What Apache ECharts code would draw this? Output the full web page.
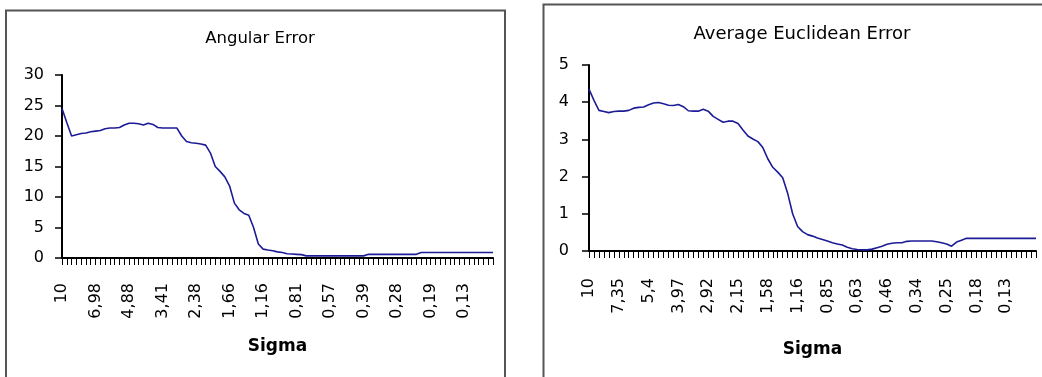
<!DOCTYPE html>
<html>
<head>
<meta charset="utf-8">
<script src="https://cdn.jsdelivr.net/npm/echarts@6/dist/echarts.min.js"></script>
<style>
html,body{margin:0;padding:0;background:#fff;}
#c{width:1042px;height:377px;}
</style>
</head>
<body>
<div id="c"></div>
<script>
// Sigma categories (x axis), shared by both charts
const sigma = [
  "10","9,5","9,03","8,57","8,15","7,74","7,35","6,98","6,63","6,3",
  "5,99","5,69","5,4","5,13","4,88","4,63","4,4","4,18","3,97","3,77",
  "3,58","3,41","3,24","3,07","2,92","2,77","2,64","2,5","2,38","2,26",
  "2,15","2,04","1,94","1,84","1,75","1,66","1,58","1,5","1,42","1,35",
  "1,29","1,22","1,16","1,1","1,05","0,99","0,94","0,9","0,85","0,81",
  "0,77","0,73","0,69","0,66","0,63","0,6","0,57","0,54","0,51","0,48",
  "0,46","0,44","0,42","0,39","0,38","0,36","0,34","0,32","0,31","0,29",
  "0,28","0,26","0,25","0,24","0,22","0,21","0,2","0,19","0,18","0,17",
  "0,17","0,16","0,15","0,14","0,13","0,13","0,12","0,12","0,11","0,1",
  "0,1"
];

// Angular Error values
const angularError = [
  24.5, 22.2, 20.0, 20.2, 20.4, 20.5, 20.7, 20.8, 20.9, 21.2,
  21.3, 21.3, 21.4, 21.8, 22.1, 22.1, 22.0, 21.8, 22.1, 21.9,
  21.4, 21.3, 21.3, 21.3, 21.3, 20.0, 19.1, 18.9, 18.8, 18.7,
  18.5, 17.2, 15.0, 14.2, 13.3, 11.8, 9.0, 7.9, 7.3, 7.0,
  5.0, 2.3, 1.45, 1.3, 1.2, 1.0, 0.9, 0.7, 0.65, 0.6,
  0.55, 0.35, 0.35, 0.35, 0.35, 0.35, 0.35, 0.35, 0.35, 0.35,
  0.35, 0.35, 0.35, 0.35, 0.6, 0.6, 0.6, 0.6, 0.6, 0.6,
  0.6, 0.6, 0.6, 0.6, 0.6, 0.9, 0.9, 0.9, 0.9, 0.9,
  0.9, 0.9, 0.9, 0.9, 0.9, 0.9, 0.9, 0.9, 0.9, 0.9,
  0.9
];

// Average Euclidean Error values
const euclideanError = [
  4.35, 4.05, 3.78, 3.75, 3.72, 3.75, 3.76, 3.76, 3.78, 3.84,
  3.86, 3.87, 3.93, 3.98, 3.99, 3.96, 3.92, 3.91, 3.94, 3.88,
  3.77, 3.76, 3.76, 3.81, 3.76, 3.62, 3.54, 3.46, 3.49, 3.49,
  3.43, 3.25, 3.09, 3.01, 2.94, 2.78, 2.48, 2.25, 2.12, 1.97,
  1.55, 1.0, 0.66, 0.52, 0.44, 0.40, 0.35, 0.31, 0.27, 0.22,
  0.19, 0.16, 0.10, 0.06, 0.04, 0.03, 0.03, 0.05, 0.09, 0.13,
  0.18, 0.21, 0.22, 0.22, 0.26, 0.27, 0.27, 0.27, 0.27, 0.27,
  0.25, 0.22, 0.19, 0.13, 0.24, 0.29, 0.34, 0.34, 0.34, 0.34,
  0.34, 0.34, 0.34, 0.34, 0.34, 0.34, 0.34, 0.34, 0.34, 0.34,
  0.34
];

const titles = ["Angular Error", "Average Euclidean Error"];
const xName = "Sigma";

const FONT = "DejaVu Sans";
const chart = echarts.init(document.getElementById('c'), null, {renderer: 'canvas'});

function xAxis(gridIndex, step, margin, nameGap) {
  return {
    type: 'category', gridIndex: gridIndex, data: sigma, boundaryGap: false,
    name: xName, nameLocation: 'middle', nameGap: nameGap,
    nameTextStyle: {fontFamily: FONT, fontWeight: 'bold', fontSize: 17, color: '#000'},
    axisLine: {lineStyle: {color: '#000', width: 2}},
    axisTick: {show: true, interval: 0, length: 7, lineStyle: {color: '#000', width: 1}},
    axisLabel: {
      interval: function (idx) { return idx % step === 0 && idx < sigma.length - 1; },
      rotate: 90, margin: margin, fontFamily: FONT, fontSize: 16, color: '#000'
    },
    splitLine: {show: false}
  };
}
function yAxis(gridIndex, max, interval, margin) {
  return {
    type: 'value', gridIndex: gridIndex, min: 0, max: max, interval: interval,
    axisLine: {show: true, lineStyle: {color: '#000', width: 2}},
    axisTick: {show: true, length: 7, lineStyle: {color: '#000', width: 1.5}},
    axisLabel: {margin: margin, fontFamily: FONT, fontSize: 16, color: '#000'},
    splitLine: {show: false}
  };
}

chart.setOption({
  animation: false,
  backgroundColor: '#fff',
  title: [
    {text: titles[0], left: 255, top: 25, textAlign: 'center',
     textStyle: {fontFamily: FONT, fontWeight: 'normal', fontSize: 16.5, color: '#000'}},
    {text: titles[1], left: 797, top: 20, textAlign: 'center',
     textStyle: {fontFamily: FONT, fontWeight: 'normal', fontSize: 18, color: '#000'}}
  ],
  graphic: [
    {type: 'rect', shape: {x: 6, y: 10.5, width: 499, height: 420}, style: {fill: 'none', stroke: '#555', lineWidth: 2}, silent: true, z: -1},
    {type: 'rect', shape: {x: 543.5, y: 4.5, width: 600, height: 420}, style: {fill: 'none', stroke: '#555', lineWidth: 2}, silent: true, z: -1}
  ],
  grid: [
    {left: 62, top: 75, width: 431, height: 183},
    {left: 589, top: 65, width: 447, height: 186}
  ],
  xAxis: [xAxis(0, 7, 25, 80), xAxis(1, 6, 27, 90)],
  yAxis: [yAxis(0, 30, 5, 18), yAxis(1, 5, 1, 20)],
  series: [
    {type: 'line', xAxisIndex: 0, yAxisIndex: 0, data: angularError, showSymbol: false,
     lineStyle: {color: '#1c1c96', width: 1.6}},
    {type: 'line', xAxisIndex: 1, yAxisIndex: 1, data: euclideanError, showSymbol: false,
     lineStyle: {color: '#1c1c96', width: 1.6}}
  ]
});
</script>
</body>
</html>
